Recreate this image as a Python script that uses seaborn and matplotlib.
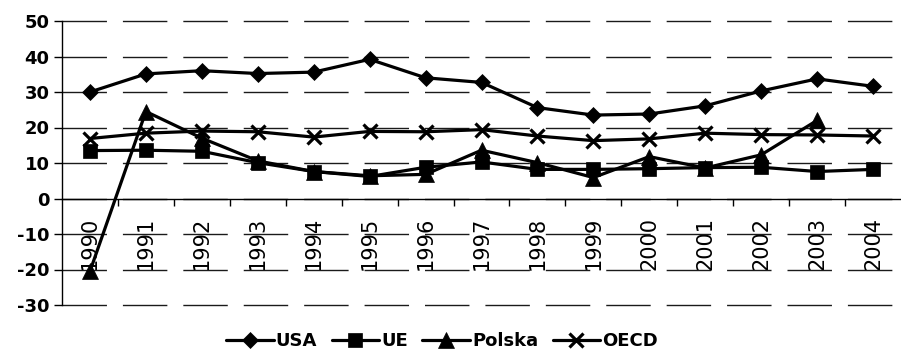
import numpy as np
import pandas as pd
import matplotlib
matplotlib.use("Agg")
import matplotlib.pyplot as plt
import seaborn as sns

years = list(range(1990, 2005))
usa = [30.0, 35.1, 36.0, 35.2, 35.6, 39.2, 34.0, 32.7, 25.6, 23.5, 23.8, 26.1, 30.3, 33.7, 31.6]
ue = [13.5, 13.6, 13.3, 10.1, 7.6, 6.2, 8.8, 10.3, 8.2, 8.2, 8.4, 8.7, 8.8, 7.6, 8.2]
polska = [-20.5, 24.5, 17.0, 10.6, 7.6, 6.4, 6.8, 13.6, 10.1, 5.9, 11.8, 8.6, 12.3, 22.0, np.nan]
oecd = [16.9, 18.4, 19.0, 18.8, 17.3, 18.9, 18.8, 19.4, 17.6, 16.3, 16.8, 18.4, 18.0, 17.9, 17.6]
series_names = ["USA", "UE", "Polska", "OECD"]
y_ticks = [-30, -20, -10, 0, 10, 20, 30, 40, 50]

df = pd.DataFrame({"rok": years, "USA": usa, "UE": ue, "Polska": polska, "OECD": oecd})
long = df.melt(id_vars="rok", var_name="seria", value_name="wartosc")

sns.set_theme(style="white")
plt.rcParams["font.family"] = ["DejaVu Sans"]
plt.rcParams["text.color"] = "black"

fig = plt.figure(figsize=(9.01, 3.53), dpi=100)
ax = fig.add_axes([62 / 901, 1 - 305 / 353, 1 - 62 / 901, 284 / 353])

markers = {"USA": "D", "UE": "s", "Polska": "^", "OECD": "x"}
msizes = {"USA": 8.3, "UE": 10.5, "Polska": 11.0, "OECD": 10.5}

for name in series_names:
    sub = long[long["seria"] == name].dropna()
    sns.lineplot(data=sub, x="rok", y="wartosc", ax=ax, color="black",
                 linewidth=2.3, marker=markers[name], markersize=msizes[name],
                 markeredgewidth=2.3 if name == "OECD" else 0.5,
                 markeredgecolor="black", markerfacecolor="black",
                 label=name, zorder=3, legend=False)

ax.set_xlim(years[0] - 0.5, years[-1] + 0.5)
ax.set_ylim(-30, 50)
ax.set_yticks(y_ticks)
ax.set_yticklabels([str(v) for v in y_ticks], fontweight="bold")
ax.set_xticks(years)
ax.set_xticklabels([str(y) for y in years])
ax.set_xticks([y + 0.5 for y in years[:-1]], minor=True)
ax.set_xlabel("")
ax.set_ylabel("")

# y grid: long dashes
ax.yaxis.grid(True, color="#1a1a1a", linewidth=1.0, linestyle=(0, (32, 11.5)), zorder=0)
ax.xaxis.grid(False)
ax.set_axisbelow(True)
for gl in ax.get_ygridlines():
    gl.set_clip_on(False)

for s in ["top", "right"]:
    ax.spines[s].set_visible(False)
ax.spines["left"].set_color("black")
ax.spines["left"].set_linewidth(1.0)
ax.spines["bottom"].set_position(("data", 0))
ax.spines["bottom"].set_color("black")
ax.spines["bottom"].set_linewidth(1.0)

ax.tick_params(axis="y", which="major", direction="out", length=6, width=1.0,
               color="black", labelcolor="black", labelsize=13, pad=3, left=True)
ax.tick_params(axis="x", which="major", length=0, labelsize=15, pad=13,
               labelrotation=90, labelcolor="black")
ax.tick_params(axis="x", which="minor", direction="out", length=5, width=1.0,
               color="black", bottom=True)

handles, labels = ax.get_legend_handles_labels()
leg = fig.legend(handles, labels, loc="center", bbox_to_anchor=(442 / 901, 1 - 341 / 353),
                 ncol=4, frameon=False, prop={"size": 13, "weight": "bold"},
                 handlelength=2.65, handletextpad=0.1, columnspacing=0.8, borderaxespad=0)
for t in leg.get_texts():
    t.set_color("black")

fig.savefig("out.png", dpi=100)
